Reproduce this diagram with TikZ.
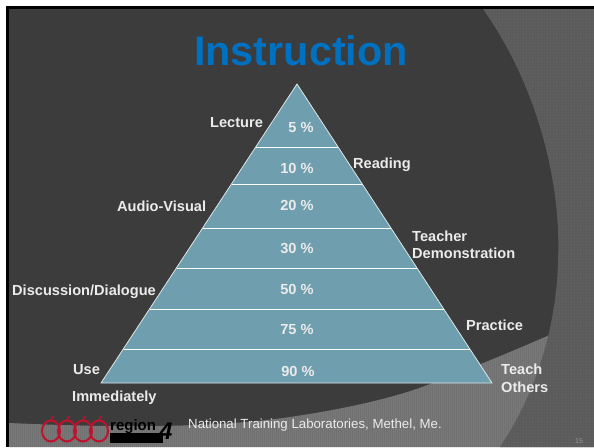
\documentclass[tikz,border=0pt]{standalone}
\usepackage{fontspec}
\setmainfont{Liberation Sans}
\usetikzlibrary{patterns.meta}
\definecolor{bgdark}{HTML}{3C3C3C}
\definecolor{bandcol}{HTML}{787878}
\definecolor{arccol}{HTML}{5E5E5E}
\definecolor{pyr}{HTML}{6F9EAE}
\definecolor{titleblue}{HTML}{0070C0}
\definecolor{apple}{HTML}{C0122C}
\tikzset{
  lbl/.style={text=white!92!black,font=\fontsize{14.6}{17.5}\selectfont\bfseries,inner sep=0pt,align=left},
  pct/.style={text=white!92!black,font=\fontsize{14.6}{17.5}\selectfont\bfseries,inner sep=0pt},
  tier/.style={draw=white,line width=0.9pt},
  applering/.style={draw=apple,line width=2pt}
}
\newcommand{\bandpath}{(9,423) .. controls (100,427) and (200,429) .. (283,418) .. controls (340,410) and (395,398) .. (430,384) .. controls (480,365) and (540,340) .. (594,315) -- (594,447) -- (9,447) -- cycle}
\newcommand{\arcpath}{(483,9) .. controls (530,75) and (562,170) .. (558,262) .. controls (556,330) and (535,395) .. (500,447) -- (594,447) -- (594,9) -- cycle}
\begin{document}
\begin{tikzpicture}[x=1pt,y=-1pt]
\useasboundingbox (0,0) rectangle (594,447);
\fill[white] (0,0) rectangle (594,447);
\fill[black] (6,6) rectangle (594,447);
\fill[bgdark] (9,9) rectangle (594,447);
% lower band
\fill[bandcol] \bandpath;
\fill[pattern={Dots[distance=2pt,radius=0.45pt,xshift=0.5pt]},pattern color=bgdark,opacity=.45] \bandpath;
% right arc
\fill[arccol] \arcpath;
\fill[pattern={Dots[distance=3pt,radius=0.6pt]},pattern color=bgdark,opacity=.4] \arcpath;
% title
\node (title) at (301,51) {\textcolor{titleblue}{\fontsize{41.4}{46}\selectfont\bfseries Instruction}};
% pyramid
\coordinate (apex) at (297,84);
\coordinate (bl) at (101,383);
\coordinate (br) at (492,383);
\fill[pyr] (apex) -- (br) -- (bl) -- cycle;
\draw[draw=white!75!pyr,line width=0.8pt] (apex) -- (br) -- (bl) -- cycle;
\foreach \nm/\yy in {a/147,b/184,c/228,d/268,e/309,f/349}{
  \coordinate (l\nm) at ({297-0.654*(\yy-84)},\yy);
  \coordinate (r\nm) at ({297+0.654*(\yy-84)},\yy);
  \draw[tier] (l\nm) -- (r\nm);
}
% percentages
\node[pct] (p1) at (301,127) {5 \%};
\node[pct] (p2) at (297,168) {10 \%};
\node[pct] (p3) at (297,205) {20 \%};
\node[pct] (p4) at (297,248) {30 \%};
\node[pct] (p5) at (297,289) {50 \%};
\node[pct] (p6) at (297,329) {75 \%};
\node[pct] (p7) at (298,371) {90 \%};
% labels
\node[lbl,anchor=west] (lec) at (210,123) {Lecture};
\node[lbl,anchor=west] (rea) at (353,164.5) {Reading};
\node[lbl,anchor=west] (aud) at (117,206) {Audio-Visual};
\node[lbl,anchor=west] (tea) at (412,245) {Teacher\\Demonstration};
\node[lbl,anchor=west] (dis) at (12,291.5) {Discussion/Dialogue};
\node[lbl,anchor=west] (pra) at (466,325) {Practice};
\node[lbl,anchor=west] (tot) at (501,378.5) {Teach\\Others};
\node[lbl,anchor=west] (use) at (73,370) {Use};
\node[lbl,anchor=west] (imm) at (72,398) {Immediately};
% logo
\foreach \xx in {51,67,83,99}{
  \draw[applering] (\xx,431) ellipse (9pt and 10.5pt);
  \draw[apple,line width=1.4pt] (\xx,420) -- (\xx+2.5,416);
}
\fill[black] (110,433) rectangle (163,443);
\node[inner sep=0pt,anchor=west,text=black] (logo) at (110,426.5) {\fontsize{15}{15}\selectfont\bfseries region};
\node[inner sep=0pt,anchor=west,text=black] (logofour) at (159,431) {\fontsize{24}{24}\selectfont\bfseries\itshape 4};
\node[anchor=west,inner sep=0pt,text=white!92!black,font=\fontsize{13.25}{15}\selectfont] (cred) at (188,425) {National Training Laboratories, Methel, Me.};
\node[anchor=center,inner sep=0pt,text=white!35!arccol,font=\fontsize{7}{8}\selectfont] (num) at (579,441) {15};
\end{tikzpicture}
\end{document}
